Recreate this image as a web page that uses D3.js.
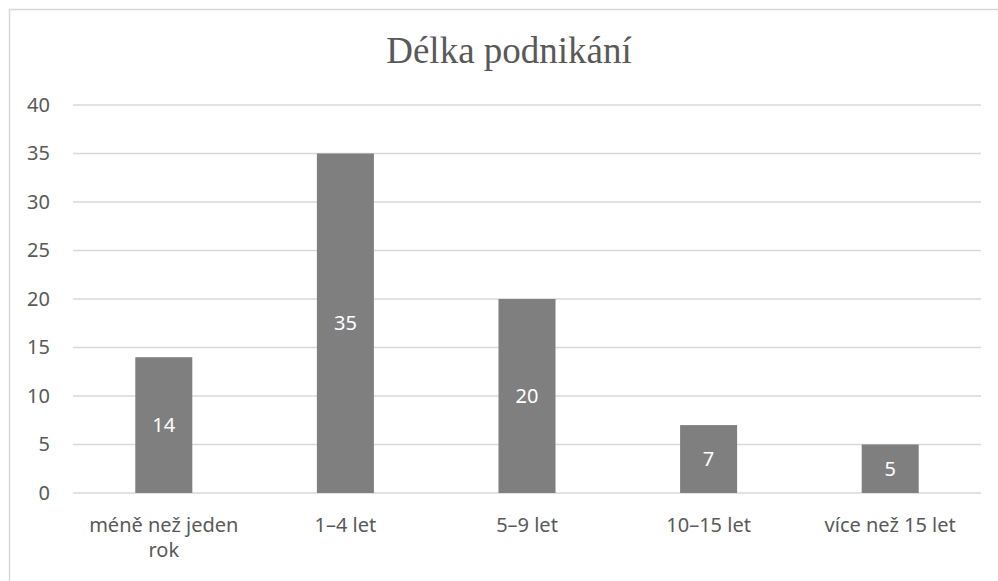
<!DOCTYPE html>
<html>
<head>
<meta charset="utf-8">
<script src="https://cdn.jsdelivr.net/npm/d3@7"></script>
<style>
  body { margin: 0; background: #fff; }
  svg { display: block; }
</style>
</head>
<body>
<svg id="chart"></svg>
<script>
var width = 998;
var height = 581;

// data
var categories = ["méně než jeden rok", "1–4 let", "5–9 let", "10–15 let", "více než 15 let"];
var labelLines = [["méně než jeden", "rok"], ["1–4 let"], ["5–9 let"], ["10–15 let"], ["více než 15 let"]];
var values = [14, 35, 20, 7, 5];
var yTicks = [0, 5, 10, 15, 20, 25, 30, 35, 40];
var title = "Délka podnikání";

var margin = {top: 105, right: 17, bottom: 88, left: 73};
var font = "'Noto Sans', 'Open Sans', sans-serif";
var textColor = "#595959";

var svg = d3.select("#chart")
    .attr("width", width)
    .attr("height", height);

// chart area border (right and bottom edges fall outside the picture)
svg.append("rect")
    .attr("x", 9.5)
    .attr("y", 9.5)
    .attr("width", width + 20)
    .attr("height", height + 20)
    .attr("fill", "#fff")
    .attr("stroke", "#d9d9d9")
    .attr("stroke-width", 1.5);

var x = d3.scaleBand()
    .domain(categories)
    .range([margin.left, width - margin.right])
    .paddingInner(0.686)
    .paddingOuter(0.343);

var y = d3.scaleLinear()
    .domain([0, 40])
    .range([height - margin.bottom, margin.top]);

// gridlines
svg.append("g")
    .selectAll("line")
    .data(yTicks)
    .join("line")
    .attr("x1", margin.left)
    .attr("x2", width - margin.right)
    .attr("y1", d => y(d))
    .attr("y2", d => y(d))
    .attr("stroke", "#d9d9d9")
    .attr("stroke-width", 1.5);

// y axis labels
var yAxis = g => g
    .attr("transform", `translate(${margin.left}, 0)`)
    .call(d3.axisLeft(y).tickValues(yTicks).tickSize(0).tickPadding(23))
    .call(g => g.select(".domain").remove())
    .call(g => g.selectAll("text")
        .attr("fill", textColor)
        .style("font-family", font)
        .style("font-size", "20px"));

svg.append("g").call(yAxis);

// bars
svg.append("g")
    .selectAll("rect")
    .data(values)
    .join("rect")
    .attr("x", (d, i) => x(categories[i]))
    .attr("y", d => y(d))
    .attr("width", x.bandwidth())
    .attr("height", d => y(0) - y(d))
    .attr("fill", "#7f7f7f");

// value labels in the middle of the bars
svg.append("g")
    .selectAll("text")
    .data(values)
    .join("text")
    .attr("x", (d, i) => x(categories[i]) + x.bandwidth() / 2)
    .attr("y", d => (y(0) + y(d)) / 2)
    .attr("dy", "0.35em")
    .attr("text-anchor", "middle")
    .attr("fill", "#fff")
    .style("font-family", font)
    .style("font-size", "20px")
    .text(d => d);

// category labels
var catG = svg.append("g")
    .selectAll("text")
    .data(categories)
    .join("text")
    .attr("text-anchor", "middle")
    .attr("fill", textColor)
    .style("font-family", font)
    .style("font-size", "20px");

catG.selectAll("tspan")
    .data((d, i) => labelLines[i].map(t => ({t: t, c: d})))
    .join("tspan")
    .attr("x", d => x(d.c) + x.bandwidth() / 2)
    .attr("y", (d, j) => y(0) + 39 + j * 25)
    .text(d => d.t);

// title
svg.append("text")
    .attr("x", 509)
    .attr("y", 63)
    .attr("text-anchor", "middle")
    .attr("fill", textColor)
    .style("font-family", "'Liberation Serif', 'DejaVu Serif', serif")
    .style("font-size", "37px")
    .text(title);
</script>
</body>
</html>
